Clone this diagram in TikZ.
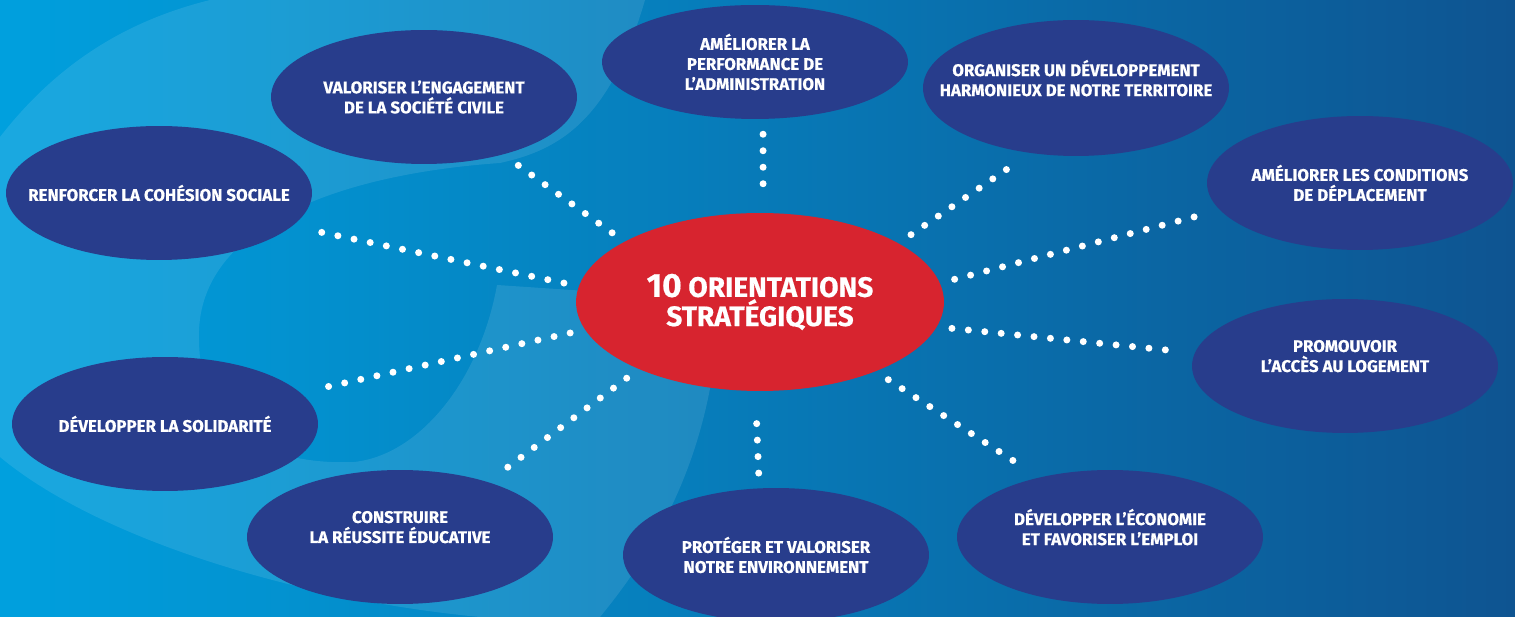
\documentclass[tikz,border=0pt]{standalone}
\usepackage{fontspec}
\setmainfont{Fira Sans}[BoldFeatures={FakeBold=0.5}]
\usepackage{xcolor}
\usetikzlibrary{shapes.geometric,positioning,calc}

\definecolor{bgleft}{RGB}{0,160,222}
\definecolor{bgright}{RGB}{14,84,145}
\definecolor{orientblue}{RGB}{40,61,140}
\definecolor{hubred}{RGB}{215,36,47}

\begin{document}
\begin{tikzpicture}[x=0.02cm, y=-0.02cm,
    orient/.style={ellipse, fill=orientblue, text=white, inner xsep=-3cm, inner ysep=-1.5cm,
        minimum width=6.12cm, minimum height=2.68cm, align=center,
        font=\fontsize{9.6}{11.4}\selectfont\bfseries},
    hub/.style={ellipse, fill=hubred, text=white, inner xsep=-3cm, inner ysep=-1.5cm,
        minimum width=7.36cm, minimum height=3.56cm, align=center,
        font=\fontsize{16}{15.4}\selectfont\bfseries},
    dotline/.style={white, line width=0.14cm, line cap=round,
        dash pattern=on 0pt off 0.33cm, shorten <=0.3cm, shorten >=0.34cm}]

    % Background
    \useasboundingbox (0,0) rectangle (1515,617);
    \shade[left color=bgleft, right color=bgright] (0,0) rectangle (1515,617);
    \fill[white, opacity=0.1] (0,137) .. controls (60,60) and (130,20) .. (210,0)
        -- (645,0) .. controls (610,120) and (560,150) .. (500,163)
        .. controls (330,175) and (195,230) .. (199,340)
        .. controls (200,440) and (280,465) .. (354,462)
        .. controls (420,455) and (480,380) .. (497,285) -- (720,300)
        .. controls (715,420) and (680,520) .. (600,617) -- (480,617)
        .. controls (300,600) and (100,540) .. (0,457) -- cycle;

    % Centre
    \node[hub] (hub) at (760,302) {{\fontsize{19}{15.4}\selectfont 10} ORIENTATIONS\\STRATÉGIQUES};

    % Orientations
    \node[orient] (renf) at (159,193) {RENFORCER LA COHÉSION SOCIALE};
    \node[orient] (valo) at (424,97) {VALORISER L’ENGAGEMENT\\DE LA SOCIÉTÉ CIVILE};
    \node[orient, minimum height=2.28cm] (perf) at (755,62) {AMÉLIORER LA\\PERFORMANCE DE\\L’ADMINISTRATION};
    \node[orient, minimum height=2.72cm] (orga) at (1076,88) {ORGANISER UN DÉVELOPPEMENT\\HARMONIEUX DE NOTRE TERRITOIRE\\\mbox{}};
    \node[orient] (cond) at (1360,183) {AMÉLIORER LES CONDITIONS\\DE DÉPLACEMENT};
    \node[orient] (promo) at (1345,366) {PROMOUVOIR\\L’ACCÈS AU LOGEMENT\\\mbox{}};
    \node[orient] (eco) at (1110,537) {DÉVELOPPER L’ÉCONOMIE\\ET FAVORISER L’EMPLOI\\\mbox{}};
    \node[orient] (prot) at (776,555) {PROTÉGER ET VALORISER\\NOTRE ENVIRONNEMENT};
    \node[orient] (cons) at (400,537) {CONSTRUIRE\\LA RÉUSSITE ÉDUCATIVE\\\mbox{}};
    \node[orient] (soli) at (165,424) {DÉVELOPPER LA SOLIDARITÉ};

    % Dotted links
    \draw[dotline] (hub.175) -- (renf.-14);
    \draw[dotline] (hub.189) -- (soli.13);
    \draw[dotline] (hub.156) -- (valo.-36);
    \draw[dotline] (perf.-82) -- (hub.88);
    \draw[dotline] (hub.23) -- (orga.-125);
    \draw[dotline] (hub.6) -- (cond.191);
    \draw[dotline] (hub.-8) -- (promo.175);
    \draw[dotline] (hub.-31) -- (eco.140);
    \draw[dotline] (prot.104) -- (hub.-93);
    \draw[dotline] (hub.209) -- (cons.32);
\end{tikzpicture}
\end{document}
